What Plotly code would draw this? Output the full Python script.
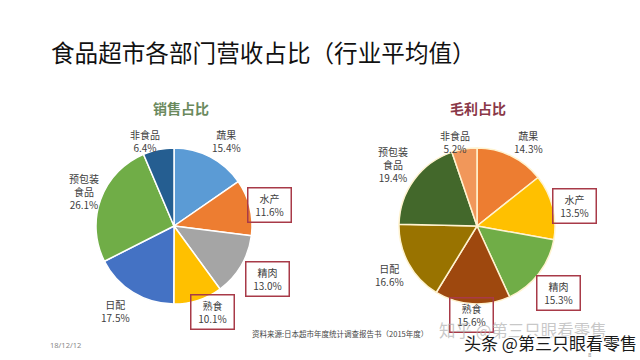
import math
import plotly.graph_objects as go

# ---- data ----
categories = ["蔬果", "水产", "精肉", "熟食", "日配", "预包装<br>食品", "非食品"]
sales_share = [15.4, 11.6, 13.0, 10.1, 17.5, 26.1, 6.4]
profit_share = [14.3, 13.5, 15.3, 15.6, 16.6, 19.4, 5.2]
highlighted = ["水产", "精肉", "熟食"]

sales_colors = ["#5B9BD5", "#ED7D31", "#A5A5A5", "#FFC000", "#4472C4", "#70AD47", "#255E91"]
profit_colors = ["#ED7D31", "#FFC000", "#70AD47", "#9E480E", "#997300", "#43682B", "#F1975A"]

title_text = "食品超市各部门营收占比（行业平均值）"
sub_left = "销售占比"
sub_right = "毛利占比"
source_text = "资料来源:日本超市年度统计调查报告书（2015年度）"
date_text = "18/12/12"

# ---- layout / style ----
W, H = 640, 360
R_PIE = 78
R_LABEL = 100
centers = [(174, 226), (477, 226)]
# small label nudges (px) mimicking the original "best fit" label placement
nudges_left = [(6, 4), (-2, 3), (7, 2), (8, -9), (-6, 0), (4, 0), (-9, 13)]
nudges_right = [(8, 6), (1, 4), (2, 6), (0, -11), (0, 1), (-3, -2), (-6, 15)]

fig = go.Figure()
annotations = []


def px2paper(x, y):
    return x / W, 1 - y / H


def ann(x, y, text, font, xanchor="center", **kw):
    ax, ay = px2paper(x, y)
    d = dict(x=ax, y=ay, xref="paper", yref="paper", showarrow=False, text=text,
             xanchor=xanchor, yanchor="middle", font=font)
    d.update(kw)
    return d


for (cx, cy), vals, cols, linecol, nudges in [
    (centers[0], sales_share, sales_colors, "#FFFFFF", nudges_left),
    (centers[1], profit_share, profit_colors, "#FFF3D0", nudges_right),
]:
    x0, y0 = px2paper(cx - R_PIE, cy + R_PIE)
    x1, y1 = px2paper(cx + R_PIE, cy - R_PIE)
    fig.add_trace(go.Pie(
        labels=categories, values=vals, sort=False, direction="clockwise", rotation=0,
        marker=dict(colors=cols, line=dict(color=linecol, width=1.5)),
        textinfo="none", hoverinfo="label+value", showlegend=False,
        domain=dict(x=[x0, x1], y=[y0, y1]),
    ))
    total = sum(vals)
    cum = 0
    for cat, v, (ndx, ndy) in zip(categories, vals, nudges):
        theta = 2 * math.pi * (cum + v / 2) / total
        cum += v
        lx = cx + R_LABEL * math.sin(theta)
        ly = cy - R_LABEL * math.cos(theta)
        extra = {}
        if cat in highlighted:
            extra = dict(bordercolor="#A83A48", borderwidth=1.5, borderpad=3, width=36, height=27)
        annotations.append(ann(lx, ly, f"{cat}<br>{v:.1f}%",
                               dict(family="Noto Sans CJK SC, Noto Sans", size=10, color="#404040"),
                               align="center", xshift=ndx, yshift=-ndy, **extra))

annotations += [
    ann(49, 52, title_text, dict(family="Noto Sans CJK SC", size=23.6, color="#111111"), xanchor="left"),
    ann(181, 108, f"<b>{sub_left}</b>", dict(family="Noto Sans CJK SC", size=14, color="#6B8A5E")),
    ann(478, 108, f"<b>{sub_right}</b>", dict(family="Noto Sans CJK SC", size=14, color="#8A3848")),
    ann(250, 333, source_text, dict(family="Noto Sans CJK SC", size=7.5, color="#444444"), xanchor="left"),
    ann(48, 345, date_text, dict(family="Noto Sans", size=7.5, color="#888888"), xanchor="left"),
    ann(437, 330, "知乎 @第三只眼看零售", dict(family="Noto Sans CJK SC", size=16.5, color="rgba(175,175,175,0.7)"), xanchor="left"),
    ann(462, 342, "头条 @第三只眼看零售",
        dict(family="Noto Sans CJK SC", size=17, color="#1a1a1a",
             shadow="1px 1px 1px white, -1px -1px 1px white, 1px -1px 1px white, -1px 1px 1px white"),
        xanchor="left"),
    ann(590, 355, "8", dict(family="Noto Sans", size=6, color="#999999")),
]

fig.update_layout(
    width=W, height=H, margin=dict(l=0, r=0, t=0, b=0, autoexpand=False),
    paper_bgcolor="white", plot_bgcolor="white",
    annotations=annotations,
)
fig.write_html("out.html", config={"displayModeBar": False},
               post_script="document.body.style.margin='0';document.body.style.padding='0';")
